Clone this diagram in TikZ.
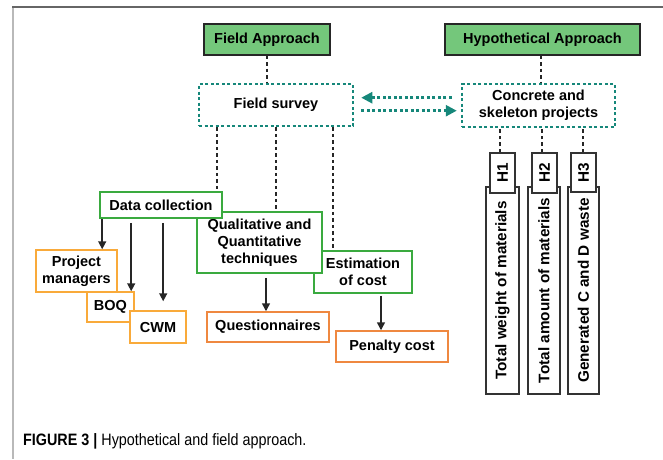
\documentclass[tikz,border=0pt]{standalone}
\usepackage{fontspec}
\setmainfont{Liberation Sans}
\newfontfamily\capfont[FakeStretch=0.87]{Liberation Sans}
\usetikzlibrary{arrows.meta}
\definecolor{gfill}{HTML}{74C77B}
\definecolor{gline}{HTML}{3AAA3F}
\definecolor{tealc}{HTML}{16877A}
\definecolor{lorange}{HTML}{F9AA3A}
\definecolor{dorange}{HTML}{EF8840}
\begin{document}
\begin{tikzpicture}[x=1pt,y=-1pt,
 txt/.style={font=\fontsize{14.5}{17}\selectfont\bfseries, align=center, inner sep=0pt},
 topbox/.style={txt, draw=black!85, line width=1.3pt, fill=gfill},
 tealbox/.style={txt, draw=tealc, line width=2.5pt, dash pattern=on 3pt off 2.5pt},
 gbox/.style={txt, draw=gline, line width=1.6pt, fill=white},
 obox/.style={txt, draw=lorange, line width=1.5pt, fill=white},
 dbox/.style={txt, draw=dorange, line width=1.5pt, fill=white},
 vbox/.style={txt, draw=black!80, line width=1.2pt, fill=white},
 vtxt/.style={font=\fontsize{15.3}{17}\selectfont\bfseries},
 dotk/.style={black!85, line width=2pt, dash pattern=on 3.5pt off 3pt},
 arr/.style={black!85, line width=1.5pt, -{Triangle[length=8pt,width=8pt]}},
 tarr/.style={tealc, line width=2.5pt, dash pattern=on 3pt off 2.5pt, -{Triangle[length=11pt,width=11pt]}}
]
\useasboundingbox (0,0) rectangle (663,459);
% frame
\draw[gray!55, line width=2pt] (13,7) -- (13,459);
\draw[black!60, line width=1.5pt] (12,7) -- (663,7);

% top boxes
\node[topbox, minimum width=126pt, minimum height=31pt] (fa) at (267,39.5) {Field Approach};
\node[topbox, minimum width=195pt, minimum height=31pt] (ha) at (542.5,39.5) {Hypothetical Approach};

% teal boxes
\node[tealbox, minimum width=154pt, minimum height=42pt] (fs) at (276,105) {Field survey};
\node[tealbox, minimum width=153pt, minimum height=43pt] (conc) at (538.5,105.5) {Concrete and\\skeleton projects};

% green boxes (order matters)
\node[gbox, minimum width=98pt, minimum height=42pt] (est) at (363,272) {Estimation\\of cost};
\node[gbox, minimum width=125pt, minimum height=61pt] (qual) at (259.5,242.5) {Qualitative and\\Quantitative\\techniques};
\node[gbox, minimum width=122pt, minimum height=26pt] (dc) at (161,205) {Data collection};

% orange boxes
\node[obox, minimum width=81pt, minimum height=42pt] (pm) at (76.5,271) {Project\\managers};
\node[obox, minimum width=47pt, minimum height=30pt] (boq) at (110.5,307) {BOQ};
\node[obox, minimum width=56pt, minimum height=32pt] (cwm) at (158,327) {CWM};
\node[dbox, minimum width=122pt, minimum height=30pt] (quest) at (268,327) {Questionnaires};
\node[dbox, minimum width=112pt, minimum height=31pt] (pen) at (392,346.5) {Penalty cost};

% tall vertical boxes
\node[vbox, vtxt, minimum width=33pt, minimum height=207pt] (t1) at (502.5,290.5) {\rotatebox{90}{Total weight of materials}};
\node[vbox, vtxt, minimum width=32pt, minimum height=207pt] (t2) at (544,290.5) {\rotatebox{90}{Total amount of materials}};
\node[vbox, vtxt, minimum width=31pt, minimum height=207pt] (t3) at (583.5,290.5) {\rotatebox{90}{Generated C and D waste}};
\node[vbox, vtxt, minimum width=25pt, minimum height=40pt] (h1) at (502.5,173) {\rotatebox{90}{H1}};
\node[vbox, vtxt, minimum width=25pt, minimum height=40pt] (h2) at (544.5,173) {\rotatebox{90}{H2}};
\node[vbox, vtxt, minimum width=25pt, minimum height=39pt] (h3) at (583.5,172.5) {\rotatebox{90}{H3}};

% dotted black connectors
\draw[dotk] (fa.south) -- (fa.south |- fs.north);
\draw[dotk] ([xshift=-1.5pt]ha.south) -- ([xshift=-1.5pt]ha.south |- conc.north);
\draw[dotk] ([xshift=-59pt]fs.south) -- ([xshift=-59pt]fs.south |- dc.north);
\draw[dotk] (fs.south) -- (fs.south |- qual.north);
\draw[dotk] ([xshift=57pt]fs.south) -- ([xshift=57pt]fs.south |- est.north);
\draw[dotk] ([xshift=-2.5pt]h1.north) -- ([xshift=-2.5pt]h1.north |- conc.south);
\draw[dotk] ([xshift=-2.5pt]h2.north) -- ([xshift=-2.5pt]h2.north |- conc.south);
\draw[dotk] ([xshift=-0.5pt]h3.north) -- ([xshift=-0.5pt]h3.north |- conc.south);

% teal arrows
\draw[tarr] ([yshift=7.8pt,xshift=-9pt]conc.west) -- ([yshift=7.8pt,xshift=7pt]conc.west -| fs.east);
\draw[tarr] ([yshift=-5.7pt,xshift=7pt]fs.east) -- ([yshift=-5.7pt,xshift=-4pt]fs.east -| conc.west);

% black arrows
\draw[arr] ([xshift=3pt]dc.south west) -- ([xshift=3pt]dc.south west |- pm.north);
\draw[arr] ([xshift=32pt,yshift=-4pt]dc.south west) -- ([xshift=32pt]dc.south west |- boq.north);
\draw[arr, shorten >=9pt] ([xshift=64pt,yshift=-4pt]dc.south west) -- ([xshift=64pt]dc.south west |- cwm.north);
\draw[arr] ([xshift=6.5pt,yshift=-4pt]qual.south) -- ([xshift=6.5pt]qual.south |- quest.north);
\draw[arr] ([xshift=18pt,yshift=-2pt]est.south) -- ([xshift=18pt]est.south |- pen.north);

% caption
\node[anchor=base west, inner sep=0pt] (cap) at (23,445) {\capfont\fontsize{16.5}{18}\selectfont\textbf{FIGURE 3 |} Hypothetical and field approach.};
\end{tikzpicture}
\end{document}
